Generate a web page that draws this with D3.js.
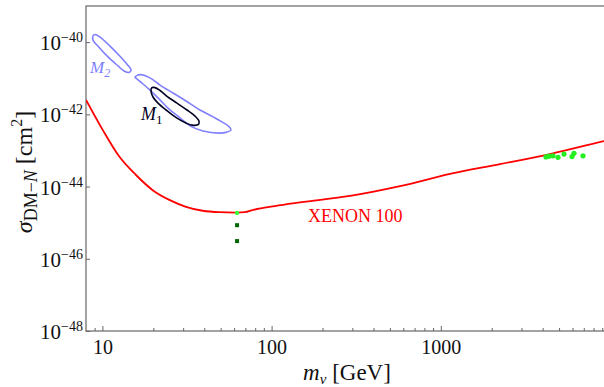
<!DOCTYPE html>
<html>
<head>
<meta charset="utf-8">
<script src="https://cdn.jsdelivr.net/npm/d3@7"></script>
<style>
  body { margin: 0; background: #fff; }
  svg text { font-family: "Liberation Serif", "Times New Roman", serif; }
</style>
</head>
<body>
<div id="chart"></div>
<script>
// masses in GeV, cross sections as log10(sigma / cm^2)
const xenonMass = [8, 10.04, 12.58, 15.8, 19.83, 24.86, 31.19, 39.15, 49.09, 61.6, 69.7, 77.3, 104.7, 147.2, 290.7, 574, 1134, 2238, 4421, 9216, 10000];
const xenonLogSigma = [-41.60, -42.43, -43.17, -43.68, -44.10, -44.37, -44.56, -44.67, -44.71, -44.72, -44.71, -44.65, -44.54, -44.44, -44.26, -43.99, -43.65, -43.38, -43.10, -42.74, -42.70];

const m2Mass = [9.04, 9.68, 11.09, 12.70, 13.98, 14.76, 14.36, 13.42, 12.37, 10.79, 9.54, 8.80, 8.80];
const m2LogSigma = [-39.79, -39.86, -40.11, -40.39, -40.61, -40.77, -40.84, -40.80, -40.66, -40.41, -40.14, -39.94, -39.83];

const m1OuterMass = [15.59, 16.68, 19.11, 21.90, 26.14, 31.19, 37.74, 45.05, 50.93, 56.0, 57.55, 53.77, 48.87, 39.31, 32.95, 28.75, 24.42, 21.90, 19.11, 17.38, 16.01];
const m1OuterLogSigma = [-40.97, -40.90, -40.99, -41.19, -41.41, -41.63, -41.88, -42.07, -42.21, -42.34, -42.43, -42.50, -42.52, -42.46, -42.32, -42.10, -41.83, -41.60, -41.33, -41.16, -41.02];

const m1InnerMass = [19.51, 20.46, 21.90, 24.09, 27.61, 31.62, 35.27, 37.23, 36.98, 33.9, 31.19, 27.3, 23.8, 21.31, 19.91, 19.38];
const m1InnerLogSigma = [-41.27, -41.26, -41.34, -41.50, -41.69, -41.88, -42.05, -42.19, -42.28, -42.30, -42.24, -42.09, -41.88, -41.69, -41.52, -41.35];

// scan points
const higgsPointMass = [62.5];
const higgsPointLogSigma = [-44.73];
const darkPointMass = [62.5, 62.5];
const darkPointLogSigma = [-45.07, -45.51];
const heavyPointMass = [4186, 4360, 4603, 4929, 5347, 5963, 6127, 6926];
const heavyPointLogSigma = [-43.18, -43.16, -43.15, -43.19, -43.10, -43.17, -43.08, -43.15];

const xMajor = [10, 100, 1000];
const yMajor = [-48, -46, -44, -42, -40];

const width = 604, height = 387;
const margin = { left: 86, top: 6, right: 610, bottom: 331 };

let x = d3.scaleLog().domain([8, 10000]).range([margin.left, margin.right]);
let y = d3.scaleLog().domain([1e-48, 1e-39]).range([margin.bottom, margin.top]);

let svg = d3.select('#chart').append('svg')
    .attr('width', width)
    .attr('height', height);

svg.append('defs').append('clipPath')
    .attr('id', 'plot-clip')
    .append('rect')
    .attr('x', margin.left)
    .attr('y', margin.top)
    .attr('width', margin.right - margin.left)
    .attr('height', margin.bottom - margin.top);

const zip = (ms, ls) => ms.map((m, i) => [m, ls[i]]);

// x ticks
let xMinor = [9];
[10, 100, 1000].forEach(d => { for (let k = 2; k <= 9; k++) xMinor.push(d * k); });

let xAxisMinor = d3.axisBottom(x).tickValues(xMinor).tickSize(-3).tickFormat('');
let xAxisMajor = d3.axisBottom(x).tickValues(xMajor).tickSize(-5).tickPadding(9).tickFormat(d3.format('d'));

svg.append('g')
    .attr('transform', `translate(0,${margin.bottom})`)
    .call(xAxisMinor)
    .call(g => g.select('.domain').remove());

let gx = svg.append('g')
    .attr('transform', `translate(0,${margin.bottom})`)
    .call(xAxisMajor)
    .call(g => g.select('.domain').remove());
gx.selectAll('text')
    .attr('font-size', 20)
    .attr('fill', '#111')
    .style('font-family', '"Liberation Serif", serif');

svg.selectAll('.tick line').attr('stroke', '#666').attr('stroke-width', 1);

// y ticks
let yAxis = d3.axisLeft(y).tickValues(yMajor.map(e => Math.pow(10, e))).tickSize(-4).tickFormat('');
svg.append('g')
    .attr('transform', `translate(${margin.left},0)`)
    .call(yAxis)
    .call(g => g.select('.domain').remove())
    .selectAll('.tick line').attr('stroke', '#666');

let yLabels = svg.append('g').selectAll('text')
    .data(yMajor)
    .enter()
    .append('text')
    .attr('x', 83)
    .attr('y', d => y(Math.pow(10, d)) + 8)
    .attr('text-anchor', 'end')
    .attr('font-size', 21)
    .attr('fill', '#111');
yLabels.append('tspan').text('10');
yLabels.append('tspan')
    .attr('font-size', 14)
    .attr('dy', -8)
    .text(d => `\u2212${Math.abs(d)}`);

// frame
svg.append('rect')
    .attr('x', margin.left)
    .attr('y', margin.top)
    .attr('width', margin.right - margin.left)
    .attr('height', margin.bottom - margin.top)
    .attr('fill', 'none')
    .attr('stroke', '#666')
    .attr('stroke-width', 1.2);

let plot = svg.append('g').attr('clip-path', 'url(#plot-clip)');

let pathGen = d3.line()
    .x(d => x(d[0]))
    .y(d => y(Math.pow(10, d[1])));

let closedGen = d3.line()
    .x(d => x(d[0]))
    .y(d => y(Math.pow(10, d[1])))
    .curve(d3.curveCatmullRomClosed);

plot.append('path')
    .datum(zip(xenonMass, xenonLogSigma))
    .attr('d', pathGen.curve(d3.curveMonotoneX))
    .attr('fill', 'none')
    .attr('stroke', '#ff0000')
    .attr('stroke-width', 1.8);

plot.append('path')
    .datum(zip(m2Mass, m2LogSigma))
    .attr('d', closedGen)
    .attr('fill', 'none')
    .attr('stroke', '#8080ff')
    .attr('stroke-width', 1.6);

plot.append('path')
    .datum(zip(m1OuterMass, m1OuterLogSigma))
    .attr('d', closedGen)
    .attr('fill', 'none')
    .attr('stroke', '#8080ff')
    .attr('stroke-width', 1.6);

plot.append('path')
    .datum(zip(m1InnerMass, m1InnerLogSigma))
    .attr('d', closedGen)
    .attr('fill', 'none')
    .attr('stroke', '#000022')
    .attr('stroke-width', 1.6);

plot.selectAll('.heavy-point')
    .data(zip(heavyPointMass, heavyPointLogSigma))
    .enter()
    .append('circle')
    .attr('cx', d => x(d[0]))
    .attr('cy', d => y(Math.pow(10, d[1])))
    .attr('r', 2.6)
    .attr('fill', '#22ee22');

plot.selectAll('.dark-point')
    .data(zip(darkPointMass, darkPointLogSigma))
    .enter()
    .append('rect')
    .attr('x', d => x(d[0]) - 2)
    .attr('y', d => y(Math.pow(10, d[1])) - 2)
    .attr('width', 4)
    .attr('height', 4)
    .attr('fill', '#006600');

plot.selectAll('.higgs-point')
    .data(zip(higgsPointMass, higgsPointLogSigma))
    .enter()
    .append('circle')
    .attr('cx', d => x(d[0]))
    .attr('cy', d => y(Math.pow(10, d[1])))
    .attr('r', 2.2)
    .attr('fill', '#33ff33');

// labels
let m2Label = svg.append('text')
    .attr('x', 90)
    .attr('y', 73)
    .attr('font-size', 17)
    .attr('font-style', 'italic')
    .attr('fill', '#8080ff');
m2Label.append('tspan').text('M');
m2Label.append('tspan').attr('font-size', 12).attr('dy', 4).text('2');

let m1Label = svg.append('text')
    .attr('x', 141)
    .attr('y', 120)
    .attr('font-size', 18)
    .attr('font-style', 'italic')
    .attr('fill', '#000022');
m1Label.append('tspan').text('M');
m1Label.append('tspan').attr('font-size', 13).attr('font-style', 'normal').attr('dy', 4).text('1');

svg.append('text')
    .attr('x', 308)
    .attr('y', 222)
    .attr('font-size', 18)
    .attr('fill', '#ff0000')
    .text('XENON 100');

// axis titles
let xTitle = svg.append('text')
    .attr('x', 347)
    .attr('y', 380)
    .attr('text-anchor', 'middle')
    .attr('font-size', 23)
    .attr('fill', '#111');
xTitle.append('tspan').attr('font-style', 'italic').text('m');
xTitle.append('tspan').attr('font-style', 'italic').attr('font-size', 15).attr('dy', 4).text('\u03BD');
xTitle.append('tspan').attr('dy', -4).text(' [GeV]');

let yTitle = svg.append('text')
    .attr('transform', 'translate(32,172) rotate(-90)')
    .attr('text-anchor', 'middle')
    .attr('font-size', 24)
    .attr('fill', '#111');
yTitle.append('tspan').attr('font-style', 'italic').text('\u03C3');
yTitle.append('tspan').attr('font-size', 18).attr('dy', 5).text('DM\u2212');
yTitle.append('tspan').attr('font-size', 18).attr('font-style', 'italic').text('N');
yTitle.append('tspan').attr('dy', -5).text(' [cm');
yTitle.append('tspan').attr('font-size', 16).attr('dy', -10).text('2');
yTitle.append('tspan').attr('dy', 10).text(']');
</script>
</body>
</html>
